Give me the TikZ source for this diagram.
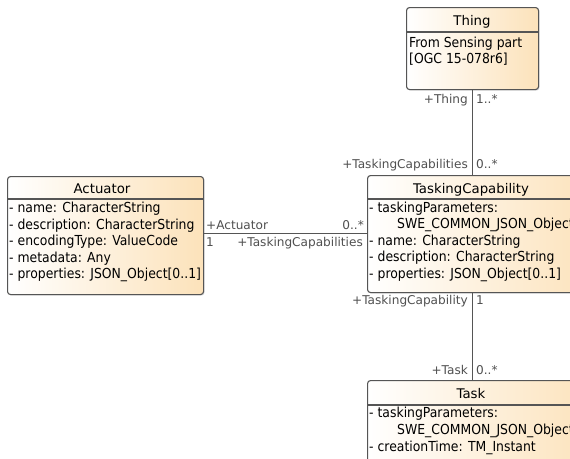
\documentclass[tikz,border=0pt]{standalone}
\usepackage{fontspec}
\setmainfont{DejaVu Sans}
\newfontfamily\condfont{DejaVu Sans Condensed}
\usetikzlibrary{shadows}
\definecolor{umlpeach}{RGB}{252,226,186}
\definecolor{umlline}{RGB}{85,85,85}
\definecolor{rolegray}{RGB}{80,80,80}
\tikzset{
  classbox/.style={draw=umlline, line width=1.1pt, rounded corners=3pt,
    left color=white, right color=umlpeach, inner sep=0pt, anchor=north west,
    drop shadow={shadow xshift=1pt, shadow yshift=-1pt, opacity=0.25}},
  sepline/.style={draw=umlline, line width=1.1pt},
  classtitle/.style={font=\fontsize{13.3}{16}\selectfont, anchor=base, inner sep=0pt},
  attr/.style={font=\condfont\fontsize{13.8}{16}\selectfont, anchor=base west, inner sep=0pt},
  role/.style={font=\fontsize{12.1}{14}\selectfont, text=rolegray, inner sep=0pt},
  roleL/.style={role, anchor=base east},
  roleR/.style={role, anchor=base west},
  assoc/.style={draw=umlline, line width=0.9pt}
}
\begin{document}
\begin{tikzpicture}[x=1pt, y=-1pt]
\useasboundingbox (0,0) rectangle (570,458);
\clip (0,0) rectangle (570,458);
\fill[white] (0,0) rectangle (570,458);

% Thing
\node[classbox, minimum width=132pt, minimum height=82pt] (thing) at (406,7) {};
\draw[sepline] (thing.north west) ++(0,25) -- ++(132,0);
\node[classtitle] (thingT) at (472,25) {Thing};
\node[attr] (thing1) at (409,47) {From Sensing part};
\node[attr] (thing2) at (409,63) {[OGC 15-078r6]};

% Actuator
\node[classbox, minimum width=196pt, minimum height=118pt] (act) at (7,176) {};
\draw[sepline] (act.north west) ++(0,23) -- ++(196,0);
\node[classtitle] (actT) at (102,193) {Actuator};
\node[attr] (act1) at (9,212.5) {- name: CharacterString};
\node[attr] (act2) at (9,229) {- description: CharacterString};
\node[attr] (act3) at (9,245.5) {- encodingType: ValueCode};
\node[attr] (act4) at (9,262) {- metadata: Any};
\node[attr] (act5) at (9,278.5) {- properties: JSON\_Object[0..1]};

% TaskingCapability
\node[classbox, minimum width=230pt, minimum height=117pt] (tc) at (367,175) {};
\draw[sepline] (tc.north west) ++(0,24) -- ++(230,0);
\node[classtitle] (tcT) at (471,193) {TaskingCapability};
\node[attr] (tc1) at (369,212) {- taskingParameters:};
\node[attr] (tc2) at (397,228.5) {SWE\_COMMON\_JSON\_Object};
\node[attr] (tc3) at (369,245) {- name: CharacterString};
\node[attr] (tc4) at (369,261.5) {- description: CharacterString};
\node[attr] (tc5) at (369,278) {- properties: JSON\_Object[0..1]};

% Task
\node[classbox, minimum width=230pt, minimum height=100pt] (task) at (367,380) {};
\draw[sepline] (task.north west) ++(0,25) -- ++(230,0);
\node[classtitle] (taskT) at (471,398) {Task};
\node[attr] (task1) at (369,417) {- taskingParameters:};
\node[attr] (task2) at (397,434) {SWE\_COMMON\_JSON\_Object};
\node[attr] (task3) at (369,451) {- creationTime: TM\_Instant};

% associations
\coordinate (hline) at (0,233);
\draw[assoc] (thing.south) -- (thing.south |- tc.north);
\draw[assoc] (thing.south |- tc.south) -- (thing.south |- task.north);
\draw[assoc] (act.east |- hline) -- (tc.west |- hline);

% role names and multiplicities
\node[roleL] (r1) at (468,103) {+Thing};
\node[roleR] (m1) at (476,103) {1..*};
\node[roleL] (r2) at (468,168) {+TaskingCapabilities};
\node[roleR] (m2) at (476,168) {0..*};
\node[roleR] (r3) at (206,229) {+Actuator};
\node[roleL] (m3) at (364,229) {0..*};
\node[roleR] (m4) at (206,246) {1};
\node[roleL] (r4) at (363,246) {+TaskingCapabilities};
\node[roleL] (r5) at (468,304) {+TaskingCapability};
\node[roleR] (m5) at (476,304) {1};
\node[roleL] (r6) at (468,374) {+Task};
\node[roleR] (m6) at (476,374) {0..*};
\end{tikzpicture}
\end{document}
